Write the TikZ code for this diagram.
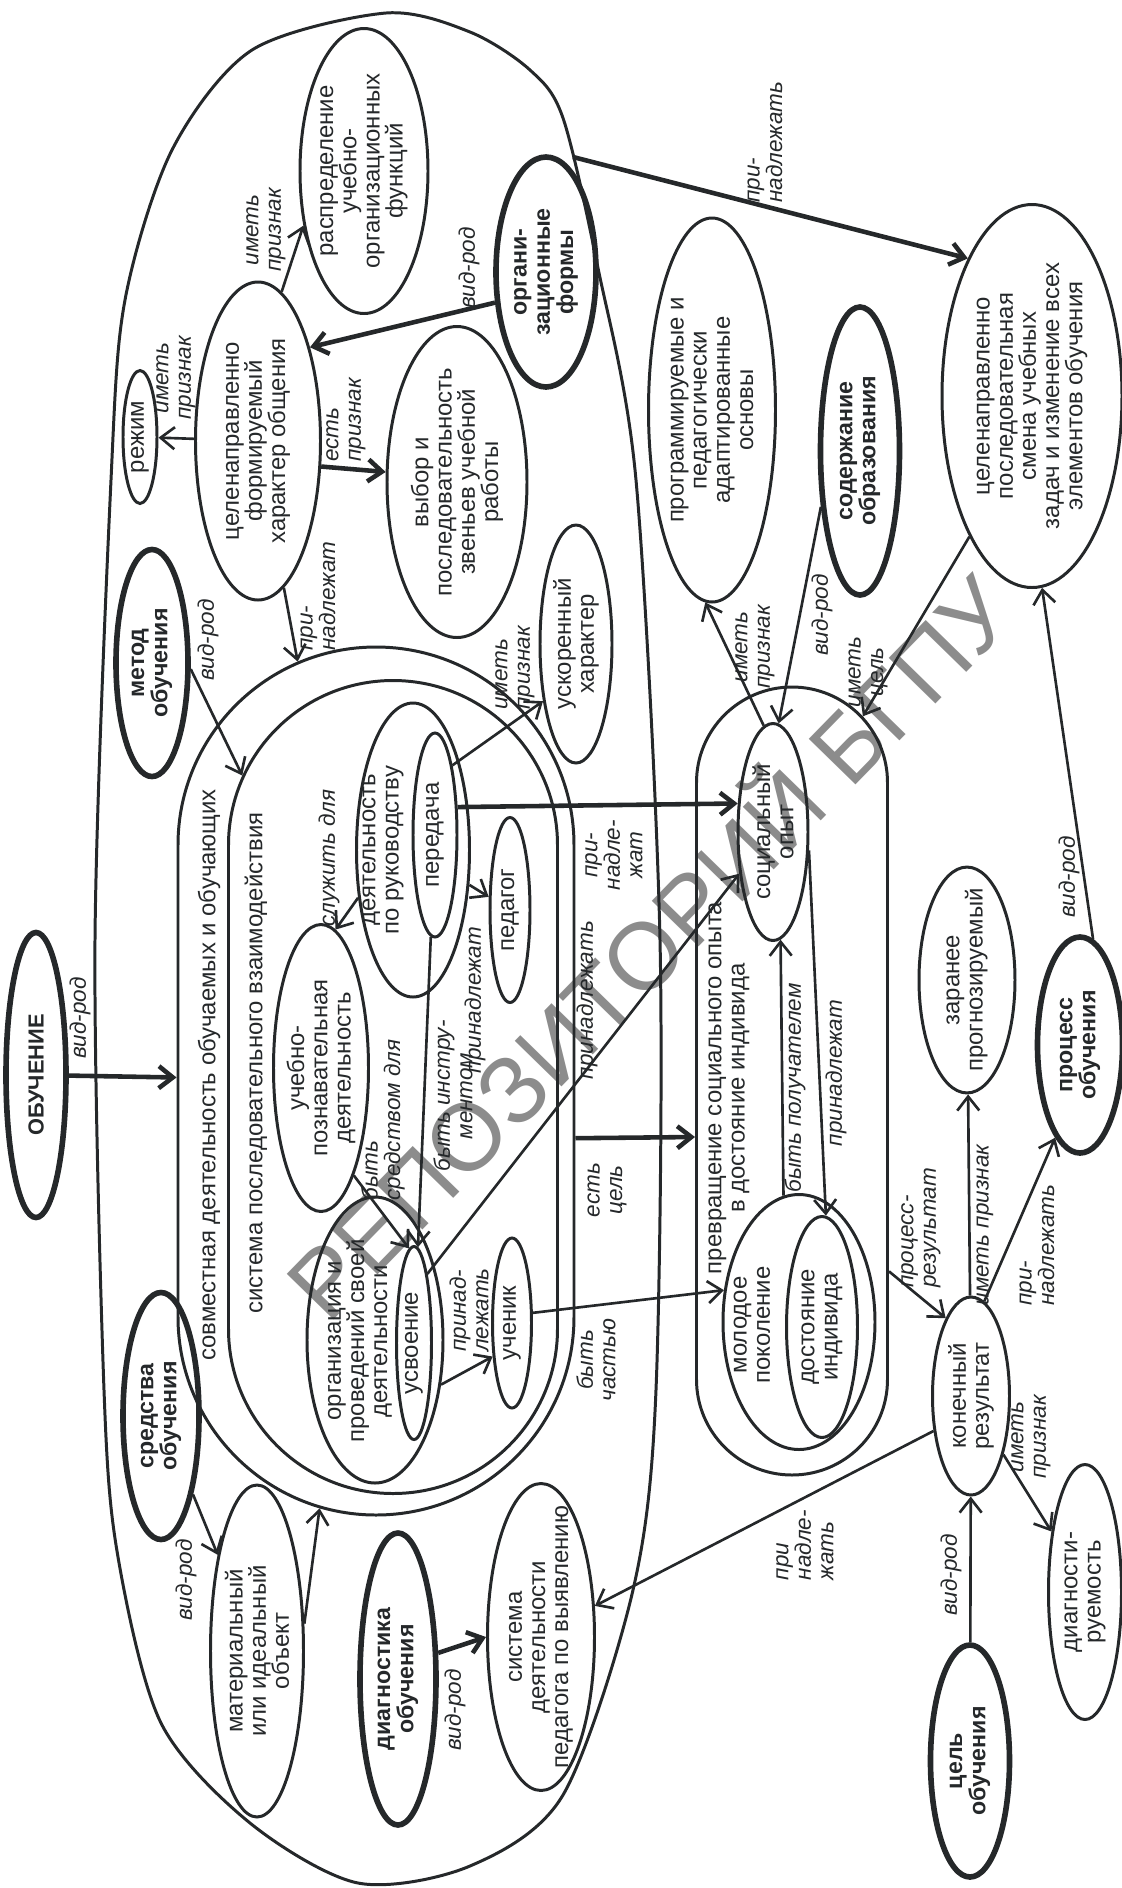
\documentclass[tikz,border=0pt]{standalone}
\usepackage{fontspec}
\setmainfont{Liberation Sans}
\usetikzlibrary{shapes.geometric,shapes.misc,arrows.meta}

\definecolor{ink}{HTML}{25282A}
\definecolor{stampgray}{HTML}{8C8C8C}

\tikzset{
  concept/.style={ellipse, draw=ink, line width=0.85pt, inner xsep=-1.2mm, inner ysep=-0.3mm,
    rotate=90, align=center, text=ink, font=\fontsize{6.8}{6.6}\selectfont},
  keyconcept/.style={concept, line width=1.6pt, font=\fontsize{6.6}{6.6}\selectfont\bfseries},
  region/.style={rounded rectangle, draw=ink, line width=0.85pt, inner sep=0pt, rotate=90},
  areatext/.style={rotate=90, inner sep=0pt, align=center, text=ink, font=\fontsize{6.8}{6.6}\selectfont},
  rel/.style={draw=ink, line width=0.75pt, -{Straight Barb[length=1.4mm,width=2.2mm]}},
  strongrel/.style={rel, line width=1.3pt},
  lbl/.style={rotate=90, inner sep=0pt, align=center, text=ink, font=\fontsize{6.4}{6.4}\selectfont\itshape},
  watermark/.style={rotate=45.7, text=stampgray, inner sep=0pt, font=\fontsize{27}{27}\selectfont},
}

\begin{document}
\begin{tikzpicture}[x=0.1mm,y=-0.1mm]
\useasboundingbox (0,0) rectangle (1122,1888);

\node[watermark] (stamp) at (644,942) {РЕПОЗИТОРИЙ БГПУ};

% outer field
\draw[ink, line width=0.85pt] plot[smooth cycle] coordinates {(386,13) (470,32) (530,70) (563,118) (598,268) (636,480) (660,940) (656,1390) (633,1590) (563,1795) (470,1866) (358,1883) (250,1823) (161,1723) (118,1557) (104,1390) (95,940) (111,480) (125,300) (172,150) (252,50)};
\coordinate (Aedge) at (573,157);

% containers
\node[region, minimum width=86.8mm, minimum height=39.6mm] (joint) at (376,1081) {};
\node[region, minimum width=81.3mm, minimum height=32.9mm] (system) at (393,1087) {};
\node[region, minimum width=78.8mm, minimum height=19.1mm] (transform) at (792,1081) {};
\node[areatext] (jointtext) at (209,1075) {совместная деятельность обучаемых и обучающих};
\node[areatext] (systext) at (256,1063) {система последовательного взаимодействия};
\node[areatext] (transtext) at (729,1088) {превращение социального опыта\\в достояние индивида};

% concepts
\node[keyconcept, minimum width=28.5mm, minimum height=6mm, font=\fontsize{6.2}{6.2}\selectfont\bfseries] (obuch) at (36,1075) {ОБУЧЕНИЕ};
\node[concept, minimum width=28.5mm, minimum height=12.8mm] (distrib) at (364,171) {распределение\\учебно-\\организационных\\функций};
\node[keyconcept, minimum width=23mm, minimum height=10mm] (orgform) at (546,272) {органи-\\зационные\\формы};
\node[concept, minimum width=31.8mm, minimum height=12.5mm] (commun) at (258,441) {целенаправленно\\формируемый\\характер общения};
\node[concept, minimum width=13.3mm, minimum height=3.4mm] (regime) at (140,437) {режим};
\node[concept, minimum width=31.1mm, minimum height=14mm] (choice) at (457,482) {выбор и\\последовательность\\звеньев учебной\\работы};
\node[concept, minimum width=23.8mm, minimum height=7.2mm] (speed) at (576,644) {ускоренный\\характер};
\node[keyconcept, minimum width=22.7mm, minimum height=7.2mm] (method) at (152,663) {метод\\обучения};
\node[concept, minimum width=38.3mm, minimum height=18mm] (change) at (1032,396) {целенаправленно\\последовательная\\смена учебных\\задач и изменение всех\\элементов обучения};
\node[concept, minimum width=38.4mm, minimum height=12.7mm] (program) at (712,410) {программируемые и\\педагогически\\адаптированные\\основы};
\node[keyconcept, minimum width=28.8mm, minimum height=7.9mm] (content) at (860,451) {содержание\\образования};
\node[concept, minimum width=21.7mm, minimum height=7mm] (social) at (773,832) {социальный\\опыт};
\node[concept, minimum width=29.4mm, minimum height=11.3mm] (guide) at (413,850) {};
\node[areatext] (guidetext) at (383,850) {деятельность\\по руководству};
\node[concept, minimum width=20.4mm, minimum height=4.4mm] (transfer) at (435,835) {передача};
\node[concept, minimum width=18.5mm, minimum height=4mm] (teacher) at (510,910) {педагог};
\node[concept, minimum width=28.7mm, minimum height=9.5mm] (cognit) at (321,1068) {учебно-\\познавательная\\деятельность};
\node[concept, minimum width=28.6mm, minimum height=13.6mm] (selforg) at (375,1340) {};
\node[areatext] (selforgtext) at (360,1341) {организация и\\проведений своей\\деятельности};
\node[concept, minimum width=19.3mm, minimum height=3.5mm] (mastery) at (414,1343) {усвоение};
\node[concept, minimum width=17mm, minimum height=3.9mm] (pupil) at (512,1323) {ученик};
\node[concept, minimum width=25.5mm, minimum height=15.2mm] (youth) at (799,1322) {};
\node[areatext] (youthtext) at (752,1325) {молодое\\поколение};
\node[concept, minimum width=22.1mm, minimum height=7.1mm] (asset) at (822,1327) {достояние\\индивида};
\node[concept, minimum width=22mm, minimum height=9.6mm] (forecast) at (967,980) {заранее\\прогнозируемый};
\node[keyconcept, minimum width=21.6mm, minimum height=8.5mm] (process) at (1080,1045) {процесс\\обучения};
\node[concept, minimum width=19.8mm, minimum height=7.7mm] (result) at (971,1396) {конечный\\результат};
\node[concept, minimum width=25.5mm, minimum height=7.3mm] (diagn) at (1085,1592) {диагности-\\руемость};
\node[keyconcept, minimum width=23.2mm, minimum height=7.9mm] (goal) at (970,1761) {цель\\обучения};
\node[concept, minimum width=30.7mm, minimum height=10.7mm, inner xsep=-3mm] (search) at (541,1637) {система\\деятельности\\педагога по выявлению};
\node[keyconcept, minimum width=29.2mm, minimum height=7.6mm] (diagnob) at (398,1679) {диагностика\\обучения};
\node[concept, minimum width=33.2mm, minimum height=9.3mm] (object) at (257,1651) {материальный\\или идеальный\\объект};
\node[keyconcept, minimum width=24.7mm, minimum height=7.6mm] (means) at (161,1416) {средства\\обучения};

% relations
\draw[strongrel] (obuch) -- (joint);
\draw[rel] (commun) -- (regime);
\draw[rel] (commun.-9.4) -- (distrib.132.1);
\draw[strongrel] (orgform.121.8) -- (commun.-29.3);
\draw[strongrel] (commun.-112.2) -- (choice.82.6);
\draw[rel] (commun.-170) -- (joint);
\draw[rel] (method.-99.7) -- (system);
\draw[strongrel] (Aedge) -- (change.25.1);
\draw[rel] (social.5.4) -- (program.178.2);
\draw[rel] (content.145.2) -- (social.-3.2);
\draw[rel] (change.156) -- (transform.-11.5);
\draw[rel] (process.-7.4) -- (change.-177.2);
\draw[rel] (transform.-153.5) -- (result.18.4);
\draw[rel] (result) -- (forecast);
\draw[rel] (result.-8.3) -- (process.165.3);
\draw[rel] (result.-151.6) -- (diagn.29.4);
\draw[rel] (goal) -- (result);
\draw[rel] (result.133.4) -- (search.-60);
\draw[strongrel] (diagnob.-57.7) -- (search.90);
\draw[rel] (object.-60.3) -- (joint);
\draw[rel] (means) -- (object);
\draw[rel] (guide.131.8) -- (cognit.-6.6);
\draw[rel] (cognit.-163.6) -- (mastery.3.8);
\draw[rel] (transfer) -- (mastery);
\draw[strongrel] (transfer.-39.2) -- (social.51);
\draw[rel] (guide) -- (teacher);
\draw[rel] (transfer.-14.7) -- (speed.150.8);
\draw[rel] (mastery.-11.3) -- (social.141.2);
\draw[rel] (selforg.-124.4) -- (pupil.150.3);
\draw[rel] (pupil.-64.5) -- (youth.67.9);
\draw[strongrel] (joint.-106.5) -- (transform.120);
\draw[rel] (youth.7.1) -- (social.-176.8);
\draw[rel] (social.-117.2) -- (asset.-2);

% relation labels
\node[lbl] (l1) at (80,1018) {вид-род};
\node[lbl] (l2) at (176,378) {иметь\\признак};
\node[lbl] (l3) at (266,230) {иметь\\признак};
\node[lbl] (l4) at (469,268) {вид-род};
\node[lbl, align=left] (l5) at (346,420) {есть\\признак};
\node[lbl, align=left] (l6) at (318,596) {при-\\надлежат};
\node[lbl] (l7) at (208,640) {вид-род};
\node[lbl, align=left] (l8) at (765,142) {при-\\надлежать};
\node[lbl] (l9) at (755,647) {иметь\\признак};
\node[lbl] (l10) at (822,615) {вид-род};
\node[lbl] (l11) at (868,672) {иметь\\цель};
\node[lbl] (l12) at (1069,877) {вид-род};
\node[lbl, align=left] (l13) at (921,1228) {процесс-\\результат};
\node[lbl] (l14) at (985,1225) {иметь признак};
\node[lbl, align=left] (l15) at (1037,1245) {при-\\надлежать};
\node[lbl] (l16) at (1031,1437) {иметь\\признак};
\node[lbl] (l17) at (951,1575) {вид-род};
\node[lbl, align=left] (l18) at (805,1545) {при\\надле-\\жать};
\node[lbl] (l19) at (455,1710) {вид-род};
\node[lbl] (l20) at (186,1580) {вид-род};
\node[lbl] (l21) at (329,858) {служить для};
\node[lbl, align=left] (l22) at (383,1120) {быть\\средством для};
\node[lbl] (l23) at (453,1096) {быть инстру-\\ментом};
\node[lbl] (l24) at (475,1000) {принадлежат};
\node[lbl, align=left] (l25) at (515,668) {иметь\\признак};
\node[lbl] (l26) at (614,855) {при-\\надле-\\жат};
\node[lbl] (l27) at (587,1000) {принадлежать};
\node[lbl, align=left] (l28) at (469,1310) {принад-\\лежать};
\node[lbl] (l29) at (596,1360) {быть\\частью};
\node[lbl] (l30) at (607,1190) {есть\\цель};
\node[lbl] (l31) at (795,1088) {быть получателем};
\node[lbl] (l32) at (836,1073) {принадлежат};
\end{tikzpicture}
\end{document}
